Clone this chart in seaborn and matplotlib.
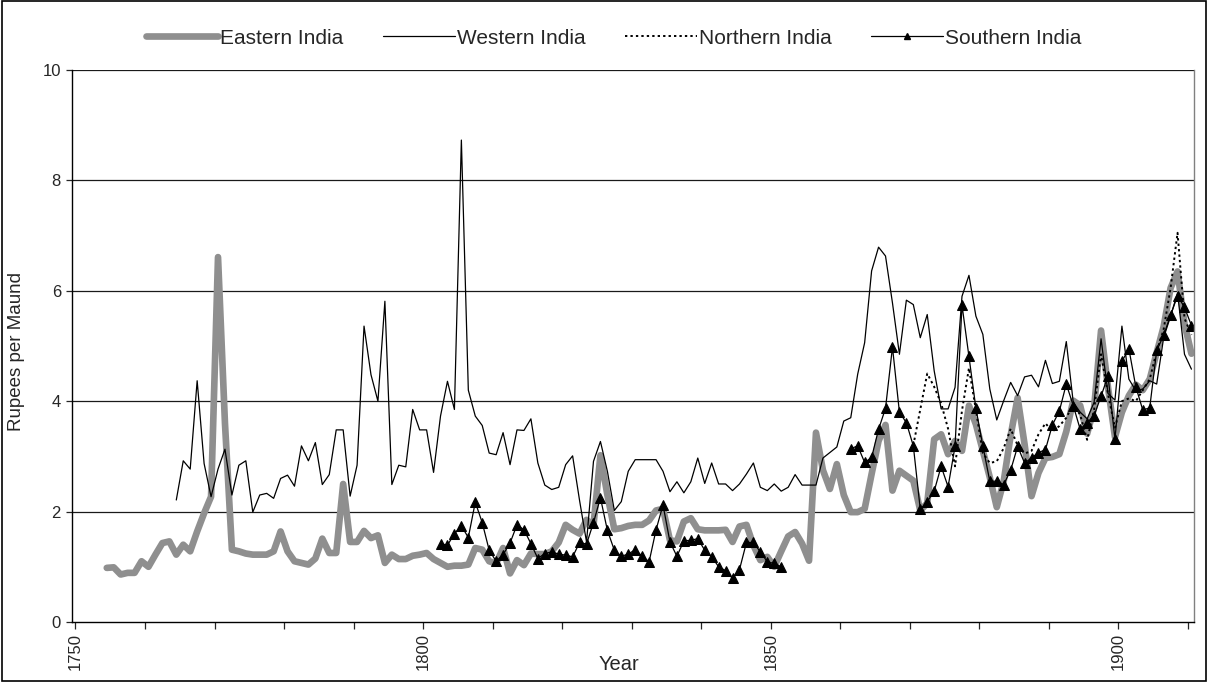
import numpy as np
import pandas as pd
import seaborn as sns
import matplotlib.pyplot as plt
from matplotlib.lines import Line2D
from matplotlib.patches import Rectangle

# annual prices, rupees per maund
east_years = np.arange(1754, 1911)
east_vals = [0.98, 0.99, 0.86, 0.89, 0.89, 1.10,
             1.00, 1.22, 1.43, 1.46, 1.22, 1.40, 1.28, 1.64, 1.97, 2.27,
             6.61, 3.60, 1.31, 1.28, 1.24, 1.22, 1.22, 1.22, 1.28, 1.64,
             1.28, 1.10, 1.07, 1.04, 1.15, 1.51, 1.25, 1.25, 2.50, 1.45,
             1.45, 1.65, 1.52, 1.57, 1.07, 1.22, 1.14, 1.14, 1.20, 1.22,
             1.25, 1.14, 1.07, 1.00, 1.02, 1.02, 1.04, 1.34, 1.31, 1.10,
             1.06, 1.34, 0.88, 1.12, 1.03, 1.24, 1.23, 1.23, 1.28, 1.44,
             1.76, 1.67, 1.60, 1.85, 1.75, 3.02, 2.30, 1.68, 1.70, 1.74,
             1.76, 1.76, 1.84, 2.02, 2.05, 1.48, 1.46, 1.82, 1.88, 1.68,
             1.66, 1.66, 1.66, 1.67, 1.45, 1.73, 1.76, 1.39, 1.12, 1.18,
             1.00, 1.28, 1.55, 1.63, 1.42, 1.11, 3.43, 2.75, 2.41, 2.86,
             2.30, 1.99, 1.99, 2.05, 2.68, 3.28, 3.57, 2.38, 2.74, 2.65,
             2.56, 2.02, 2.15, 3.31, 3.40, 3.04, 3.28, 3.10, 3.92, 3.58,
             3.10, 2.62, 2.08, 2.55, 3.38, 4.06, 3.22, 2.28, 2.70, 2.97,
             2.99, 3.04, 3.45, 4.01, 3.92, 3.41, 3.88, 5.28, 4.25, 3.35,
             3.80, 4.10, 4.30, 4.20, 4.40, 4.88, 5.35, 6.05, 6.35, 5.40,
             4.86]

west_years = np.arange(1764, 1911)
west_vals = [2.21, 2.92, 2.77, 4.37, 2.87, 2.27,
             2.77, 3.13, 2.30, 2.84, 2.92, 1.99, 2.30, 2.33, 2.24, 2.60,
             2.66, 2.46, 3.19, 2.92, 3.25, 2.49, 2.67, 3.48, 3.48, 2.28,
             2.84, 5.36, 4.48, 4.00, 5.81, 2.49, 2.84, 2.81, 3.85, 3.48,
             3.48, 2.71, 3.73, 4.36, 3.85, 8.73, 4.20, 3.73, 3.56, 3.06,
             3.03, 3.43, 2.85, 3.48, 3.47, 3.68, 2.88, 2.48, 2.40, 2.44,
             2.85, 3.01, 2.20, 1.45, 2.91, 3.27, 2.73, 2.02, 2.18, 2.73,
             2.94, 2.94, 2.94, 2.94, 2.73, 2.36, 2.54, 2.34, 2.54, 2.97,
             2.51, 2.88, 2.50, 2.50, 2.38, 2.50, 2.68, 2.88, 2.44, 2.38,
             2.50, 2.37, 2.44, 2.67, 2.48, 2.48, 2.48, 2.97, 3.07, 3.17,
             3.64, 3.70, 4.49, 5.06, 6.36, 6.79, 6.63, 5.78, 4.85, 5.83,
             5.75, 5.15, 5.57, 4.55, 3.86, 3.86, 4.25, 5.90, 6.28, 5.54,
             5.21, 4.22, 3.66, 4.01, 4.34, 4.10, 4.44, 4.47, 4.26, 4.74,
             4.32, 4.36, 5.08, 3.98, 3.80, 3.68, 3.98, 5.13, 4.14, 4.02,
             5.36, 4.40, 4.19, 4.22, 4.37, 4.31, 5.15, 5.54, 5.96, 4.85,
             4.58]

north_years = np.arange(1870, 1911)
north_vals = [3.20, 3.85, 4.50, 4.26, 3.96, 3.50, 2.82, 3.83, 4.60, 3.84,
              3.06, 2.88, 2.91, 3.15, 3.50, 3.20, 3.05, 3.10, 3.40, 3.60,
              3.45, 3.55, 3.70, 3.95, 3.75, 3.30, 3.85, 4.85, 4.13, 3.52,
              4.00, 4.05, 4.00, 4.20, 4.40, 4.90, 5.30, 6.05, 7.05, 5.50,
              5.20]

# southern series has a gap 1852-1860
south_years_a = np.arange(1802, 1852)
south_vals_a = [1.42, 1.39, 1.60, 1.74, 1.53, 2.17, 1.80, 1.30,
                1.10, 1.22, 1.43, 1.76, 1.67, 1.42, 1.15, 1.24, 1.27, 1.23,
                1.21, 1.18, 1.44, 1.41, 1.80, 2.25, 1.66, 1.30, 1.19, 1.23,
                1.31, 1.19, 1.09, 1.67, 2.12, 1.45, 1.19, 1.47, 1.48, 1.51,
                1.30, 1.18, 1.00, 0.93, 0.79, 0.95, 1.44, 1.44, 1.27, 1.09,
                1.06, 1.00]
south_years_b = np.arange(1861, 1911)
south_vals_b = [3.14, 3.19, 2.89, 2.98, 3.49, 3.87, 4.98, 3.80, 3.61,
                3.19, 2.04, 2.18, 2.37, 2.82, 2.45, 3.18, 5.74, 4.81, 3.87,
                3.19, 2.55, 2.55, 2.49, 2.75, 3.18, 2.88, 2.97, 3.07, 3.12,
                3.57, 3.82, 4.31, 3.92, 3.49, 3.61, 3.74, 4.09, 4.46, 3.31,
                4.72, 4.95, 4.26, 3.84, 3.88, 4.92, 5.19, 5.56, 5.91, 5.70,
                5.37]

labels = ['Eastern India', 'Western India', 'Northern India', 'Southern India']

sns.set_style('white')
plt.rcParams['font.family'] = ['Liberation Sans', 'DejaVu Sans']

fig = plt.figure(figsize=(12.08, 6.82), dpi=100)
ax = fig.add_axes([0.0596, 0.088, 0.929, 0.8094])

# categories sit half a year right of the ticks
off = 0.5

east = pd.DataFrame({'x': east_years + off, 'y': east_vals})
west = pd.DataFrame({'x': west_years + off, 'y': west_vals})
north = pd.DataFrame({'x': north_years + off, 'y': north_vals})
south = pd.concat([
    pd.DataFrame({'x': south_years_a + off, 'y': south_vals_a, 'seg': 0}),
    pd.DataFrame({'x': south_years_b + off, 'y': south_vals_b, 'seg': 1}),
])

for yv in [2, 4, 6, 8, 10]:
    ax.axhline(yv, color='#1a1a1a', lw=0.9, zorder=0)

grey = '#8f8f8f'
dots = (0, (1.2, 1.6))
sns.lineplot(data=east, x='x', y='y', ax=ax, color=grey, lw=4.8,
             solid_joinstyle='round')
sns.lineplot(data=west, x='x', y='y', ax=ax, color='black', lw=0.9)
sns.lineplot(data=north, x='x', y='y', ax=ax, color='black', lw=1.4,
             linestyle=dots)
sns.lineplot(data=south, x='x', y='y', units='seg', estimator=None, ax=ax,
             color='black', lw=0.9, marker='^', markersize=6.5,
             markeredgecolor='black', markerfacecolor='black')

ax.set_xlim(1749.5, 1910.9)
ax.set_ylim(0, 10)
ax.set_yticks(range(0, 11, 2))
ticks = list(range(1750, 1911, 10))
ax.set_xticks(ticks)
ax.set_xticklabels([str(t) if t % 50 == 0 else '' for t in ticks],
                   rotation=90, fontsize=12)
ax.tick_params(axis='y', labelsize=12, length=4, width=0.9, direction='out',
               left=True, pad=4)
ax.tick_params(axis='x', length=5, width=0.9, direction='out', bottom=True,
               pad=3)
ax.set_xlabel('Year', fontsize=14.5)
ax.xaxis.set_label_coords(0.487, -0.06)
ax.set_ylabel('Rupees per Maund', fontsize=13.5)
ax.yaxis.set_label_coords(-0.042, 0.49)

for s in ['left', 'bottom']:
    ax.spines[s].set_color('black')
    ax.spines[s].set_linewidth(1.0)
ax.spines['right'].set_color('#808080')
ax.spines['right'].set_linewidth(1.0)
ax.spines['top'].set_visible(False)

handles = [
    Line2D([], [], color=grey, lw=4.8),
    Line2D([], [], color='black', lw=0.9),
    Line2D([], [], color='black', lw=1.4, linestyle=dots),
    Line2D([], [], color='black', lw=0.9, marker='^', markersize=5),
]
fig.legend(handles, labels, loc='center', bbox_to_anchor=(0.508, 0.944),
           ncol=4, frameon=False, fontsize=15, handlelength=3.45,
           handletextpad=0.1, columnspacing=1.9)

fig.patches.append(Rectangle((0.0015, 0.002), 0.997, 0.996,
                             transform=fig.transFigure, fill=False,
                             edgecolor='black', lw=1.2))

fig.savefig('out.png', dpi=100)
